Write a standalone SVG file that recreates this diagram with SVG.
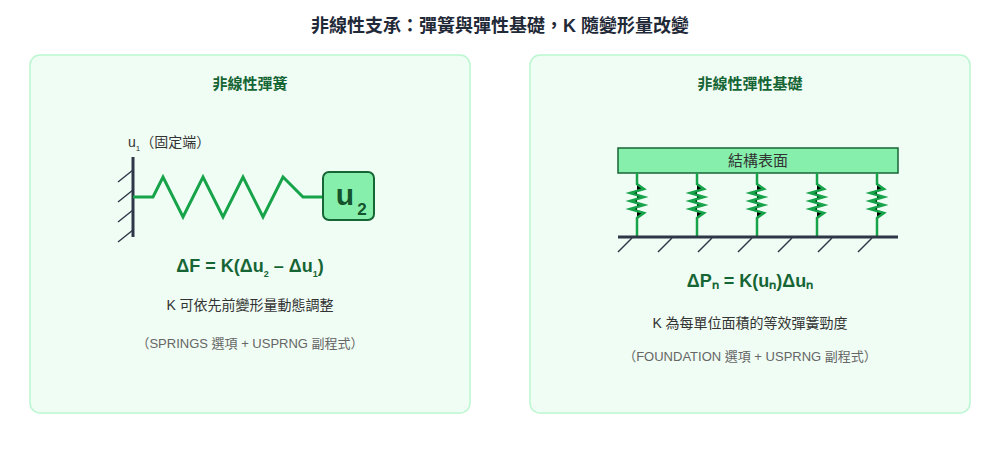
<svg xmlns="http://www.w3.org/2000/svg" width="1000" height="460" viewBox="0 0 1000 460">
<style>
text{font-family:"Liberation Sans","Noto Sans CJK TC",sans-serif}
.panel{fill:#f0fdf4;stroke:#bbf7d0;stroke-width:1.5}
.h{font-size:15px;font-weight:bold;fill:#166534;text-anchor:middle}
.eq{font-size:18px;font-weight:bold;fill:#166534;text-anchor:middle}
.d{font-size:14px;fill:#333;text-anchor:middle}
.n{font-size:13px;fill:#666;text-anchor:middle}
.sp{fill:none;stroke:#16a34a;stroke-width:3;stroke-linejoin:miter}
.gs{fill:#000;stroke:#16a34a;stroke-width:2.5}
.k{stroke:#2d3748;stroke-width:1.5}
</style>
<rect width="1000" height="460" fill="#fff"/>
<text x="500" y="32" text-anchor="middle" font-size="18" font-weight="bold" fill="#1f2937">非線性支承：彈簧與彈性基礎，K 隨變形量改變</text>
<g id="left">
<rect class="panel" x="30" y="55" width="440" height="358" rx="10"/>
<text class="h" x="250" y="89">非線性彈簧</text>
<text x="128" y="147" font-size="14" fill="#333">u<tspan font-size="8" dy="4">1</tspan><tspan dy="-4">（固定端）</tspan></text>
<line x1="133" y1="157" x2="133" y2="237" stroke="#2d3748" stroke-width="3"/>
<g class="k"><line x1="133" y1="170" x2="118" y2="182"/><line x1="133" y1="190" x2="118" y2="202"/><line x1="133" y1="210" x2="118" y2="222"/><line x1="133" y1="230" x2="118" y2="242"/></g>
<polyline class="sp" points="133,197 153,197 163,177 183,217 203,177 223,217 243,177 263,217 283,177 303,197 323,197"/>
<rect x="323" y="172" width="51" height="48" rx="6" fill="#86efac" stroke="#166534" stroke-width="2"/>
<text x="345" y="205" font-size="30" font-weight="bold" fill="#14532d" text-anchor="middle">u</text>
<text x="362" y="215" font-size="17" font-weight="bold" fill="#14532d" text-anchor="middle">2</text>
<text class="eq" x="250" y="272">ΔF = K(Δu<tspan font-size="9" dy="5">2</tspan><tspan dy="-5"> – Δu</tspan><tspan font-size="9" dy="5">1</tspan><tspan dy="-5">)</tspan></text>
<text class="d" x="250" y="310">K 可依先前變形量動態調整</text>
<text class="n" x="250" y="348">（SPRINGS 選項 + USPRNG 副程式）</text>
</g>
<g id="right">
<rect class="panel" x="530" y="55" width="440" height="358" rx="10"/>
<text class="h" x="750" y="89">非線性彈性基礎</text>
<rect x="618" y="148" width="280" height="25" fill="#86efac" stroke="#166534" stroke-width="1.5"/>
<text x="758" y="166" font-size="15" fill="#333" text-anchor="middle">結構表面</text>
<g id="springs">
<path class="gs" d="M637,173 V184 L644,189 L630,193 L644,197 L630,201 L644,205 L630,209 L644,213 L637,218 V236"/>
<path class="gs" d="M697,173 V184 L704,189 L690,193 L704,197 L690,201 L704,205 L690,209 L704,213 L697,218 V236"/>
<path class="gs" d="M757,173 V184 L764,189 L750,193 L764,197 L750,201 L764,205 L750,209 L764,213 L757,218 V236"/>
<path class="gs" d="M817,173 V184 L824,189 L810,193 L824,197 L810,201 L824,205 L810,209 L824,213 L817,218 V236"/>
<path class="gs" d="M877,173 V184 L884,189 L870,193 L884,197 L870,201 L884,205 L870,209 L884,213 L877,218 V236"/>
</g>
<line x1="618" y1="237" x2="898" y2="237" stroke="#2d3748" stroke-width="3"/>
<g class="k"><line x1="632" y1="238" x2="618" y2="252"/><line x1="672" y1="238" x2="658" y2="252"/><line x1="712" y1="238" x2="698" y2="252"/><line x1="752" y1="238" x2="738" y2="252"/><line x1="792" y1="238" x2="778" y2="252"/><line x1="832" y1="238" x2="818" y2="252"/><line x1="872" y1="238" x2="858" y2="252"/></g>
<text class="eq" x="750" y="287">ΔPₙ = K(uₙ)Δuₙ</text>
<text class="d" x="750" y="328">K 為每單位面積的等效彈簧勁度</text>
<text class="n" x="750" y="361">（FOUNDATION 選項 + USPRNG 副程式）</text>
</g>
</svg>
